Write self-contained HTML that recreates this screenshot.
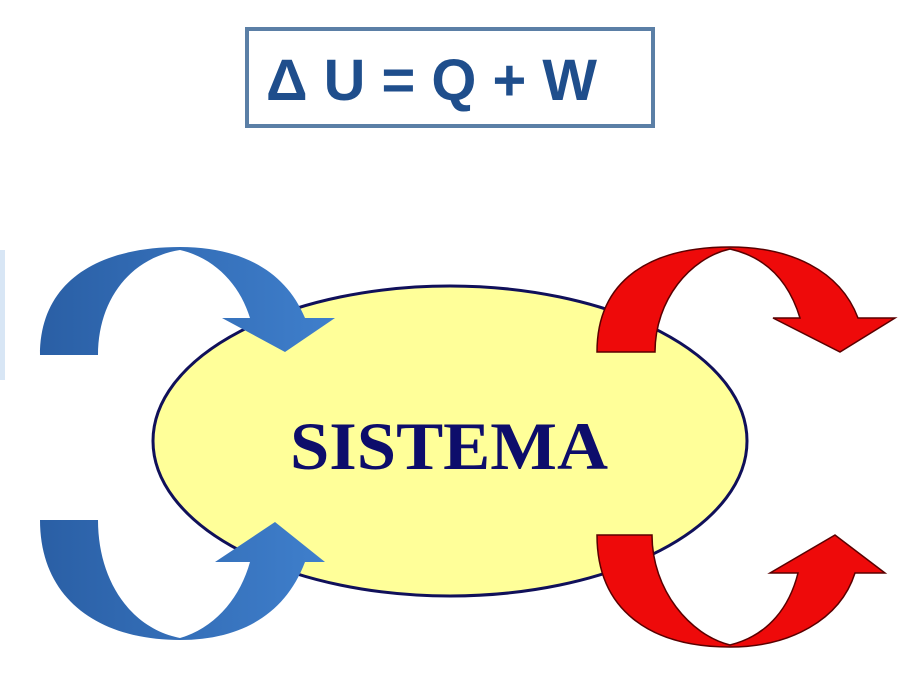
<!DOCTYPE html>
<html><head><meta charset="utf-8"><style>
html,body{margin:0;padding:0;background:#fff;width:900px;height:675px;overflow:hidden}
</style></head><body>
<svg width="900" height="675" viewBox="0 0 900 675" xmlns="http://www.w3.org/2000/svg">
<defs>
<linearGradient id="bl" x1="0" y1="0" x2="1" y2="0">
<stop offset="0" stop-color="#2a5fa5"/><stop offset="1" stop-color="#3f7fcc"/>
</linearGradient>
</defs>
<rect x="0" y="250" width="5" height="130" fill="#d8e6f5"/>
<rect x="247" y="29" width="406" height="97" fill="#fff" stroke="#5b7fa6" stroke-width="4"/>
<text x="266" y="100" font-family="Liberation Sans, sans-serif" font-weight="bold" font-size="58" fill="#1f4e8c" textLength="331" lengthAdjust="spacingAndGlyphs">Δ U = Q + W</text>

<ellipse cx="450" cy="441" rx="297" ry="155" fill="#ffff99" stroke="#10105a" stroke-width="3"/>

<path d="M40,355 L98,355 C98,300 130,258 180,250 C215,258 240,285 250,318 L222,318 L285,352 L335,318 L305,318 C285,270 240,247 180,247 C100,247 40,280 40,355 Z" fill="url(#bl)"/>
<path d="M40,520 L98,520 C98,580 130,628 180,638 C215,628 240,598 250,562 L215,562 L275,522 L325,562 L305,562 C285,615 240,640 180,640 C100,640 40,600 40,520 Z" fill="url(#bl)"/>

<path d="M597,352 L655,352 C655,300 690,258 730,249 C770,258 790,285 800,318 L773,318 L840,352 L895,318 L858,318 C840,270 790,247 730,247 C650,247 597,280 597,352 Z" fill="#ee0a0a" stroke="#5a0000" stroke-width="1.5"/>
<path d="M597,535 L652,535 C652,590 690,635 730,645 C770,635 790,605 798,573 L770,573 L835,535 L885,573 L855,573 C840,620 790,647 730,647 C650,647 597,610 597,535 Z" fill="#ee0a0a" stroke="#5a0000" stroke-width="1.5"/>

<text x="290" y="469" font-family="Liberation Serif, serif" font-weight="bold" font-size="68" fill="#0d0d6b" textLength="318" lengthAdjust="spacingAndGlyphs">SISTEMA</text>
</svg>
</body></html>
